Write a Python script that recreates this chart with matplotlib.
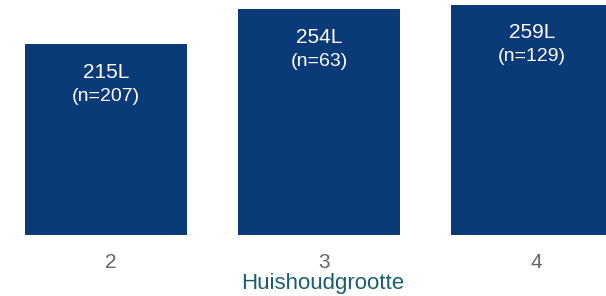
import matplotlib
matplotlib.use("Agg")
import matplotlib.pyplot as plt
import matplotlib.transforms as mtransforms

# Data
groups = ["2", "3", "4"]
liters = [215, 254, 259]
counts = [207, 63, 129]

plt.rcParams['font.family'] = ['Liberation Sans', 'DejaVu Sans']

bar_color = "#0b3a78"
fig = plt.figure(figsize=(6.06, 2.96), dpi=100)
ax = fig.add_axes([0, 61 / 296, 1, 235 / 296])

x = list(range(len(groups)))
ax.bar(x, liters, width=0.76, color=bar_color)

for xi, val, n in zip(x, liters, counts):
    ax.annotate(f"{val}L", (xi, val), xytext=(0, -28), textcoords="offset pixels",
                ha="center", va="center", color="white", fontsize=15)
    ax.annotate(f"(n={n})", (xi, val), xytext=(0, -52), textcoords="offset pixels",
                ha="center", va="center", color="white", fontsize=14)

ax.set_xlim(-0.498, 2.347)
ax.set_ylim(0, 264.6)
ax.set_xticks(x)
ax.set_xticklabels(groups, fontsize=15, color="#666666")
ax.tick_params(axis="x", length=0, pad=13)
# tick labels sit a few pixels right of the bar centres
shift = mtransforms.ScaledTranslation(4.5 / 100, 0, fig.dpi_scale_trans)
for lbl in ax.get_xticklabels():
    lbl.set_transform(lbl.get_transform() + shift)
ax.set_yticks([])
for s in ax.spines.values():
    s.set_visible(False)
ax.set_xlabel("Huishoudgrootte", fontsize=16, color="#1b5e6e")
ax.xaxis.set_label_coords(323 / 606, -0.208)
ax.xaxis.label.set_va("center")

plt.savefig("out.png", dpi=100)
plt.close()
